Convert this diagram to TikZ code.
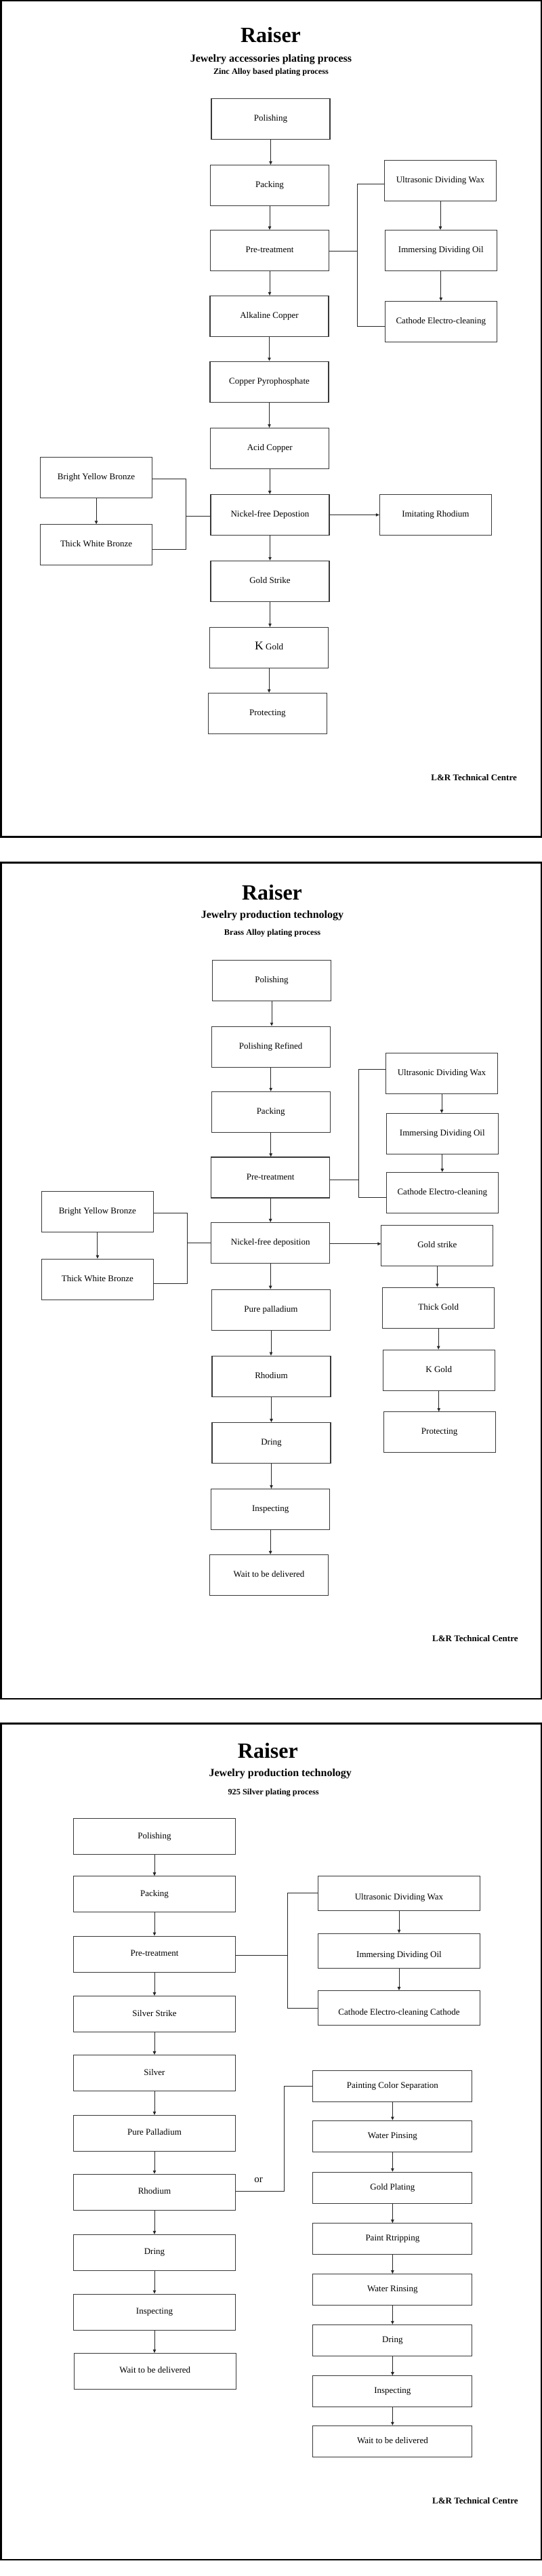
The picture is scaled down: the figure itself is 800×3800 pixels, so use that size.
\documentclass[tikz,border=0pt]{standalone}
\usepackage{fontspec}
\setmainfont{Liberation Serif}
\usetikzlibrary{arrows.meta}
\begin{document}
\begin{tikzpicture}[x=1pt,y=-1pt,
 box/.style={draw=black!78, line width=1.1pt, fill=white, inner sep=0pt, font=\fontsize{13}{15}\selectfont, text height=9pt, text depth=3pt, align=center},
 bA/.style={box, minimum width=175pt, minimum height=60pt},
 bB/.style={box, minimum width=165pt, minimum height=60pt},
 bC/.style={box, minimum width=239pt, minimum height=53pt},
 bD/.style={box, minimum width=239pt, minimum height=51pt},
 bE/.style={box, minimum width=235pt, minimum height=46pt},
 lowtext/.style={text height=20pt, text depth=0pt},
 arr/.style={draw=black!85, line width=0.9pt, -{Triangle[length=5pt,width=4.5pt]}},
 conn/.style={draw=black!85, line width=0.9pt},
 frame/.style={draw=black, line width=2.5pt},
 ttl/.style={font=\bfseries\fontsize{32}{36}\selectfont, inner sep=0pt},
 sub/.style={font=\bfseries\fontsize{16}{18}\selectfont, inner sep=0pt},
 subb/.style={font=\bfseries\fontsize{12.3}{14}\selectfont, inner sep=0pt},
 sig/.style={font=\bfseries\fontsize{13}{15}\selectfont, anchor=east, inner sep=0pt},
 ortext/.style={font=\fontsize{15}{17}\selectfont, inner sep=0pt}
]
\useasboundingbox (0,0) rectangle (800,3800);
\fill[white] (0,0) rectangle (800,3800);

% ================= Panel 1 =================
\draw[frame] (1.25,1.25) rectangle (798.75,1234.7);
\node[ttl] (t1) at (399.5,51.7) {Raiser};
\node[sub] (s1) at (400,87.3) {Jewelry accessories plating process};
\node[subb] (ss1) at (400,106.8) {Zinc Alloy based plating process};

\node[bA] (p1pol) at (399.5,175.5) {Polishing};
\node[bA] (p1pack) at (398,273.5) {Packing};
\node[bA] (p1pre) at (398,369.5) {Pre-treatment};
\node[bA] (p1alk) at (397.5,466.4) {Alkaline Copper};
\node[bA] (p1cpp) at (397.5,563.1) {Copper Pyrophosphate};
\node[bA] (p1acid) at (398.2,661.4) {Acid Copper};
\node[bA] (p1ni) at (398.5,759.5) {Nickel-free Depostion};
\node[bA] (p1gs) at (398.5,857.3) {Gold Strike};
\node[bA] (p1kg) at (397.2,955.4) {{\fontsize{17.6}{20}\selectfont K} Gold};
\node[bA] (p1prot) at (394.9,1052.4) {Protecting};

\node[bB] (p1udw) at (650,266.5) {Ultrasonic Dividing Wax};
\node[bB] (p1ido) at (650.8,369.5) {Immersing Dividing Oil};
\node[bB] (p1cec) at (650.8,474.4) {Cathode Electro-cleaning};

\node[bB] (p1byb) at (142.1,704.3) {Bright Yellow Bronze};
\node[bB] (p1twb) at (142.1,803.8) {Thick White Bronze};
\node[bB] (p1ir) at (642.9,759.5) {Imitating Rhodium};

\node[sig] (l1) at (763,1146.6) {L\&R Technical Centre};

\foreach \a/\b in {p1pol/p1pack,p1pack/p1pre,p1pre/p1alk,p1alk/p1cpp,p1cpp/p1acid,p1acid/p1ni,p1ni/p1gs,p1gs/p1kg,p1kg/p1prot,p1udw/p1ido,p1ido/p1cec,p1byb/p1twb}
  \draw[arr] (\a.south) -- (\a.south |- \b.north);
\draw[arr] (p1ni.east) -- (p1ir.west);

\coordinate (p1r) at (527,0);
\coordinate (p1a) at ([yshift=-4.8pt]p1udw.west);
\coordinate (p1b) at ([yshift=-6.6pt]p1cec.west);
\draw[conn] (p1a) -- (p1a -| p1r) -- (p1b -| p1r) -- (p1b);
\coordinate (p1e) at ([yshift=-1pt]p1pre.east);
\draw[conn] (p1e) -- (p1e -| p1r);

\coordinate (p1l) at (274.5,0);
\coordinate (p1c) at ([yshift=-1.7pt]p1byb.east);
\coordinate (p1d) at ([yshift=-6.2pt]p1twb.east);
\draw[conn] (p1c) -- (p1c -| p1l) -- (p1d -| p1l) -- (p1d);
\coordinate (p1f) at ([yshift=-2pt]p1ni.west);
\draw[conn] (p1f) -- (p1f -| p1l);

% ================= Panel 2 =================
\draw[frame] (1.25,1272.5) rectangle (798.75,2506);
\node[ttl] (t2) at (401.5,1316.3) {Raiser};
\node[sub] (s2) at (402,1350.7) {Jewelry production technology};
\node[subb] (ss2) at (402,1376.9) {Brass Alloy plating process};

\node[bA] (p2pol) at (401,1446.3) {Polishing};
\node[bA] (p2polr) at (399.7,1544.1) {Polishing Refined};
\node[bA] (p2pack) at (399.7,1640.3) {Packing};
\node[bA] (p2pre) at (399.2,1737) {Pre-treatment};
\node[bA] (p2ni) at (399.2,1833.5) {Nickel-free deposition};
\node[bA] (p2pp) at (400,1932.2) {Pure palladium};
\node[bA] (p2rh) at (400.5,2030.2) {Rhodium};
\node[bA] (p2dr) at (400.5,2128.5) {Dring};
\node[bA] (p2insp) at (399.2,2226.4) {Inspecting};
\node[bA] (p2wait) at (397,2323.4) {Wait to be delivered};

\node[bB] (p2udw) at (652,1583.1) {Ultrasonic Dividing Wax};
\node[bB] (p2ido) at (652.8,1672.5) {Immersing Dividing Oil};
\node[bB] (p2cec) at (652.8,1759.4) {Cathode Electro-cleaning};

\node[bB] (p2byb) at (143.9,1787.1) {Bright Yellow Bronze};
\node[bB] (p2twb) at (143.9,1887.2) {Thick White Bronze};

\node[bB] (p2gs) at (645.4,1837.3) {Gold strike};
\node[bB] (p2tg) at (647.2,1929.1) {Thick Gold};
\node[bB] (p2kg) at (647.7,2021.2) {K Gold};
\node[bB] (p2prot) at (648.7,2112.8) {Protecting};

\node[sig] (l2) at (764.8,2417) {L\&R Technical Centre};

\foreach \a/\b in {p2pol/p2polr,p2polr/p2pack,p2pack/p2pre,p2pre/p2ni,p2ni/p2pp,p2pp/p2rh,p2rh/p2dr,p2dr/p2insp,p2insp/p2wait,p2udw/p2ido,p2ido/p2cec,p2byb/p2twb,p2gs/p2tg,p2tg/p2kg,p2kg/p2prot}
  \draw[arr] (\a.south) -- (\a.south |- \b.north);
\coordinate (p2g) at ([yshift=-1.3pt]p2ni.east);
\draw[arr] (p2g) -- (p2g -| p2gs.west);

\coordinate (p2r) at (529,0);
\coordinate (p2a) at ([yshift=5.6pt]p2udw.west);
\coordinate (p2b) at ([yshift=-6.8pt]p2cec.west);
\draw[conn] (p2a) -- (p2a -| p2r) -- (p2b -| p2r) -- (p2b);
\coordinate (p2e) at ([yshift=-3pt]p2pre.east);
\draw[conn] (p2e) -- (p2e -| p2r);

\coordinate (p2l) at (276.5,0);
\coordinate (p2c) at ([yshift=-1.9pt]p2byb.east);
\coordinate (p2d) at ([yshift=-6.5pt]p2twb.east);
\draw[conn] (p2c) -- (p2c -| p2l) -- (p2d -| p2l) -- (p2d);
\draw[conn] (p2ni.west) -- (p2ni.west -| p2l);

% ================= Panel 3 =================
\draw[frame] (1.25,2542.4) rectangle (798.75,3776);
\node[ttl] (t3) at (395.4,2582.6) {Raiser};
\node[sub] (s3) at (413.8,2617) {Jewelry production technology};
\node[subb] (ss3) at (403.6,2644.6) {925 Silver plating process};

\node[bC] (p3pol) at (228,2709.4) {Polishing};
\node[bC] (p3pack) at (228,2794.2) {Packing};
\node[bC] (p3pre) at (228,2882.6) {Pre-treatment};
\node[bC] (p3ss) at (228,2971) {Silver Strike};
\node[bC] (p3sil) at (228,3058) {Silver};
\node[bC] (p3pp) at (228,3146.9) {Pure Palladium};
\node[bC] (p3rh) at (228,3233.8) {Rhodium};
\node[bC] (p3dr) at (228,3322.9) {Dring};
\node[bC] (p3insp) at (228,3410.6) {Inspecting};
\node[bC] (p3wait) at (228.8,3497.9) {Wait to be delivered};

\node[bD,lowtext] (p3udw) at (589,2792.9) {Ultrasonic Dividing Wax};
\node[bD,lowtext] (p3ido) at (589,2877.7) {Immersing Dividing Oil};
\node[bD,lowtext] (p3cec) at (589,2962) {Cathode Electro-cleaning Cathode};

\node[bE] (p3pcs) at (579.4,3077.3) {Painting Color Separation};
\node[bE] (p3wp) at (579.4,3151.1) {Water Pinsing};
\node[bE] (p3gp) at (579.4,3227.1) {Gold Plating};
\node[bE] (p3pr) at (579.4,3302.8) {Paint Rtripping};
\node[bE] (p3wr) at (579.4,3377.6) {Water Rinsing};
\node[bE] (p3dr2) at (579.4,3452.3) {Dring};
\node[bE] (p3insp2) at (579.4,3527.7) {Inspecting};
\node[bE] (p3wait2) at (579.4,3601.3) {Wait to be delivered};

\node[sig] (l3) at (764.8,3689.4) {L\&R Technical Centre};

\foreach \a/\b in {p3pol/p3pack,p3pack/p3pre,p3pre/p3ss,p3ss/p3sil,p3sil/p3pp,p3pp/p3rh,p3rh/p3dr,p3dr/p3insp,p3insp/p3wait,p3udw/p3ido,p3ido/p3cec,p3pcs/p3wp,p3wp/p3gp,p3gp/p3pr,p3pr/p3wr,p3wr/p3dr2,p3dr2/p3insp2,p3insp2/p3wait2}
  \draw[arr] (\a.south) -- (\a.south |- \b.north);

\coordinate (p3r) at (424.5,0);
\draw[conn] (p3udw.west) -- (p3udw.west -| p3r) -- (p3cec.west -| p3r) -- (p3cec.west);
\coordinate (p3e) at ([yshift=-1.4pt]p3pre.east);
\draw[conn] (p3e) -- (p3e -| p3r);

\coordinate (p3o) at (419.4,0);
\coordinate (p3h) at ([yshift=1.5pt]p3rh.east);
\draw[conn] (p3h) -- (p3h -| p3o) -- (p3pcs.west -| p3o) -- (p3pcs.west);
\node[ortext] (p3or) at (381.6,3216.3) {or};
\end{tikzpicture}
\end{document}
